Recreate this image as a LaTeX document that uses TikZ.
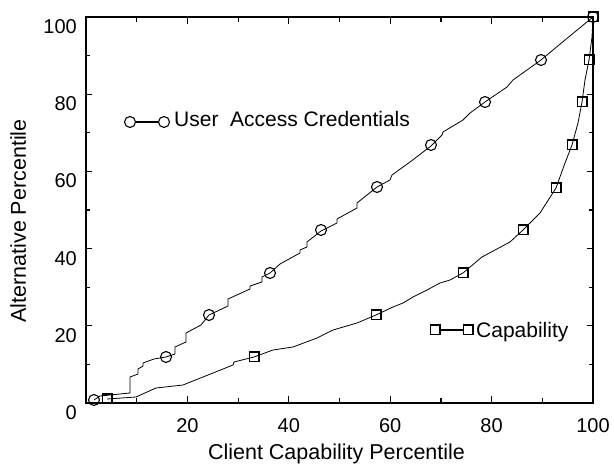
\documentclass[tikz,border=0pt]{standalone}
\usepackage{fontspec}
\setmainfont{Liberation Sans}
\begin{document}
\begin{tikzpicture}[x=1pt,y=-1pt,
  frame/.style={line width=1.8pt},
  tickmark/.style={line width=1.2pt},
  curve/.style={line width=0.8pt, line join=round},
  legline/.style={line width=1.3pt},
  circmark/.style={circle, draw, line width=1.1pt, minimum size=11pt, inner sep=0pt},
  sqmark/.style={rectangle, draw, line width=1.5pt, minimum size=9.5pt, inner sep=0pt},
  ticklabel/.style={font=\fontsize{20}{24}\selectfont, inner sep=0pt},
  axtitle/.style={font=\fontsize{21.5}{26}\selectfont, inner sep=0pt},
  legtext/.style={font=\fontsize{21}{25}\selectfont, inner sep=0pt}]
\useasboundingbox (0,0) rectangle (614,465);
\clip (0,0) rectangle (614,465);

% plot frame
\draw[frame] (86,17) rectangle (593,403);

% inward ticks on all four sides, every 10 units
\foreach \k/\L in {1/5,2/7,3/5,4/7,5/5,6/7,7/5,8/7,9/5}{
  \pgfmathsetmacro{\xx}{86+50.7*\k}
  \draw[tickmark] (\xx,403) -- (\xx,{403-\L});
  \draw[tickmark] (\xx,17) -- (\xx,{17+\L});
}
\foreach \k/\L in {1/4,2/6,3/4,4/6,5/4,6/6,7/4,8/6,9/4}{
  \pgfmathsetmacro{\yy}{403-38.6*\k}
  \draw[tickmark] (86,\yy) -- ({86+\L},\yy);
  \draw[tickmark] (593,\yy) -- ({593-\L},\yy);
}

% tick labels
\foreach \v in {20,40,60,80,100}
  \node[ticklabel, anchor=base] (xl\v) at ({86+5.07*\v},433) {\v};
\foreach \v in {0,20,40,60,80,100}
  \node[ticklabel, anchor=base east] (yl\v) at (77,{403-3.86*\v+16.5}) {\v};

% axis titles
\node[axtitle, anchor=base] (xtitle) at (336.5,460) {Client Capability Percentile};
\node[axtitle, rotate=90, anchor=base] (ytitle) at (26,221) {Alternative Percentile};

% User Access Credentials curve
\draw[curve] (94,400) -- (100,396) -- (130,393) -- (130,377) -- (138,374) -- (138,369)
  -- (143,366) -- (143,363) -- (154,359) -- (166,357) -- (175,354) -- (175,347)
  -- (186,342) -- (186,333) -- (201,325) -- (209,315) -- (228,306) -- (228,299)
  -- (250,289) -- (250,286) -- (262,282) -- (262,277) -- (270,273) -- (280,264)
  -- (300,253) -- (300,250) -- (307,247) -- (307,242) -- (321,231) -- (337,223)
  -- (337,219) -- (357,208) -- (357,203) -- (377,187) -- (390,180) -- (392,175)
  -- (410,162) -- (431,146) -- (442,135) -- (443,132) -- (463,120) -- (470,113)
  -- (485,102) -- (507,87) -- (513,80) -- (541,60) -- (565,40) -- (593,17);

% Capability curve
\draw[curve] (107,399) -- (136,397) -- (156,388) -- (183,385) -- (203,377) -- (233,365)
  -- (234,362) -- (254,357) -- (273,350) -- (293,347) -- (317,338) -- (333,330)
  -- (357,323) -- (376,315) -- (393,307) -- (403,303) -- (413,297) -- (427,290)
  -- (440,283) -- (450,280) -- (463,273) -- (482,257) -- (510,242) -- (523,230)
  -- (540,213) -- (556,188) -- (565,163) -- (572,145) -- (578,123) -- (582,102)
  -- (585,80) -- (589,60) -- (592,37) -- (593,17);

% markers
\foreach \p [count=\i] in {(94,400),(166,357),(209,315),(270,273),(321,230),
                           (377,187),(431,145),(485,102),(541,60),(593,17)}
  \node[circmark] (u\i) at \p {};
\foreach \p [count=\i] in {(107,399),(254,357),(376,315),(463,273),(523,230),
                           (556,188),(572,145),(582,102),(589,60),(593,17)}
  \node[sqmark] (c\i) at \p {};

% legend
\node[circmark] (lu1) at (130,122) {};
\node[circmark] (lu2) at (164,122) {};
\draw[legline] (lu1) -- (lu2);
\node[legtext, anchor=base west] (lutext) at (174,127) {User\ \ Access Credentials};

\node[sqmark] (lc1) at (435,330) {};
\node[sqmark] (lc2) at (468,330) {};
\draw[legline] (lc1) -- (lc2);
\node[legtext, anchor=base west] (lctext) at (476,338) {Capability};
\end{tikzpicture}
\end{document}
